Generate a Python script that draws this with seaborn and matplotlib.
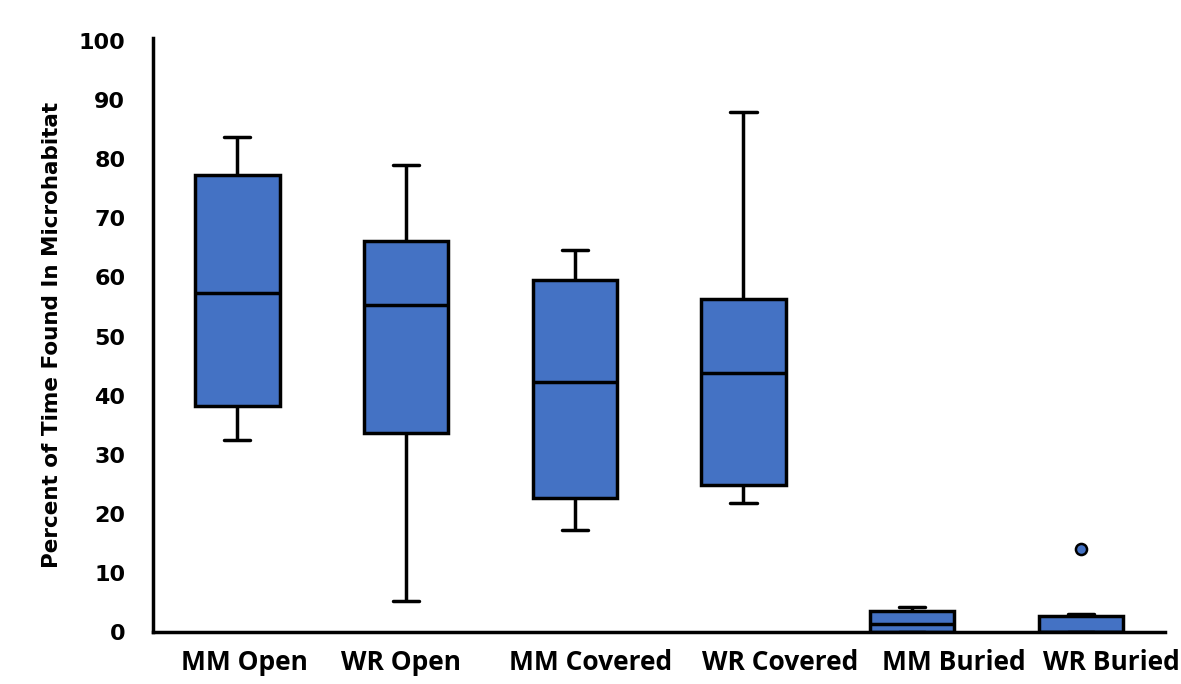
import matplotlib
matplotlib.use("Agg")
import matplotlib.pyplot as plt
import matplotlib.transforms as mtransforms
import numpy as np
import pandas as pd
import seaborn as sns

# Microhabitat use per group (percent of time), observations summarised per box
categories = ["MM Open", "WR Open", "MM Covered", "WR Covered", "MM Buried", "WR Buried"]
mm_open = [32.5, 38.2, 57.4, 77.4, 83.7]
wr_open = [5.2, 33.7, 55.4, 66.2, 79.0]
mm_covered = [17.2, 22.7, 42.3, 59.6, 64.6]
wr_covered = [21.9, 24.9, 43.9, 56.4, 88.0]
mm_buried = [0.0, 0.0, 1.3, 3.6, 4.2]
wr_buried = [0.0, 0.0, 0.0, 0.0, 0.0, 2.6, 3.0, 14.1]
y_ticks = [0, 10, 20, 30, 40, 50, 60, 70, 80, 90, 100]

groups = [mm_open, wr_open, mm_covered, wr_covered, mm_buried, wr_buried]
df = pd.DataFrame({
    "group": [c for c, g in zip(categories, groups) for _ in g],
    "percent": [v for g in groups for v in g],
})

sns.set_style("white")
plt.rcParams["font.family"] = ["DejaVu Sans"]
plt.rcParams["text.color"] = "black"
plt.rcParams["xtick.color"] = "black"
plt.rcParams["ytick.color"] = "black"
plt.rcParams["axes.labelcolor"] = "black"

fig = plt.figure(figsize=(11.81, 6.84), dpi=100)
ax = fig.add_axes([0.1296, 0.076, 0.857, 0.8684])

blue = "#4472C4"
lw = 2.5
sns.boxplot(
    data=df, x="group", y="percent", order=categories, ax=ax,
    color=blue, saturation=1, width=0.5, linecolor="black", linewidth=lw,
    whis=1.5, capwidths=0.155,
    flierprops=dict(marker="o", markerfacecolor=blue, markeredgecolor="black",
                    markersize=8, markeredgewidth=1.8),
)

ax.set_xlim(-0.5, 5.5)
ax.set_ylim(0, 100.5)
ax.set_yticks(y_ticks)
ax.set_yticklabels([str(t) for t in y_ticks], fontsize=16, fontweight="bold")
ax.tick_params(axis="both", length=0)
ax.tick_params(axis="y", pad=20)
ax.tick_params(axis="x", pad=12)

ax.set_xticks(range(len(categories)))
ax.set_xticklabels(categories, fontsize=19, fontweight="bold",
                   family=["Open Sans", "DejaVu Sans"])
label_shift_px = [7, -5, 16, 37, 42, 31]
for lab, dx in zip(ax.get_xticklabels(), label_shift_px):
    lab.set_transform(lab.get_transform() +
                      mtransforms.ScaledTranslation(dx / 100, 0, fig.dpi_scale_trans))

ax.set_xlabel("")
ax.set_ylabel("Percent of Time Found In Microhabitat", fontsize=15.5,
              fontweight="bold", labelpad=12)

for side in ["top", "right"]:
    ax.spines[side].set_visible(False)
for side in ["left", "bottom"]:
    ax.spines[side].set_color("black")
    ax.spines[side].set_linewidth(2.5)

fig.savefig("out.png", dpi=100, facecolor="white")
